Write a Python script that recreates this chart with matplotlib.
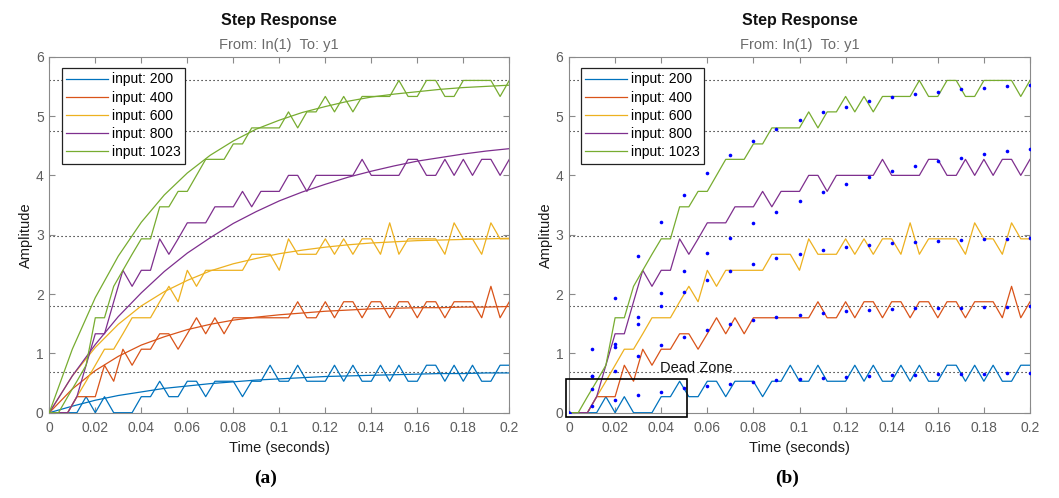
import matplotlib
matplotlib.use('Agg')
import matplotlib.pyplot as plt
from matplotlib.patches import Rectangle

plt.rcParams['font.family'] = ['Liberation Sans', 'DejaVu Sans']

# ---------------- data ----------------
series_labels = ['input: 200', 'input: 400', 'input: 600', 'input: 800', 'input: 1023']
series_colors = ['#0072BD', '#D95319', '#EDB120', '#7E2F8E', '#77AC30']

# measured (quantised) step responses, sampled every 4 ms
t_meas = [0.000, 0.004, 0.008, 0.012, 0.016, 0.020, 0.024, 0.028, 0.032, 0.036,
          0.040, 0.044, 0.048, 0.052, 0.056, 0.060, 0.064, 0.068, 0.072, 0.076,
          0.080, 0.084, 0.088, 0.092, 0.096, 0.100, 0.104, 0.108, 0.112, 0.116,
          0.120, 0.124, 0.128, 0.132, 0.136, 0.140, 0.144, 0.148, 0.152, 0.156,
          0.160, 0.164, 0.168, 0.172, 0.176, 0.180, 0.184, 0.188, 0.192, 0.196,
          0.200]

meas_200 = [0, 0, 0, 0, 0.27, 0, 0.27, 0, 0, 0,
            0.27, 0.27, 0.53, 0.27, 0.27, 0.53, 0.53, 0.27, 0.53, 0.53,
            0.53, 0.27, 0.53, 0.53, 0.80, 0.53, 0.53, 0.80, 0.53, 0.53,
            0.53, 0.80, 0.53, 0.80, 0.53, 0.53, 0.80, 0.53, 0.80, 0.53,
            0.53, 0.80, 0.80, 0.53, 0.80, 0.53, 0.80, 0.53, 0.53, 0.80, 0.80]
meas_400 = [0, 0, 0, 0.27, 0.27, 0.27, 0.80, 0.53, 1.07, 0.80,
            1.07, 1.07, 1.33, 1.33, 1.07, 1.33, 1.60, 1.33, 1.60, 1.33,
            1.60, 1.60, 1.60, 1.60, 1.60, 1.60, 1.60, 1.87, 1.60, 1.60,
            1.87, 1.60, 1.87, 1.87, 1.60, 1.87, 1.87, 1.60, 1.87, 1.87,
            1.60, 1.87, 1.87, 1.60, 1.87, 1.87, 1.87, 1.60, 2.13, 1.60, 1.87]
meas_600 = [0, 0, 0, 0.27, 0.53, 0.80, 1.07, 1.07, 1.33, 1.60,
            1.60, 1.60, 1.87, 2.13, 1.87, 2.40, 2.13, 2.40, 2.40, 2.40,
            2.40, 2.40, 2.67, 2.67, 2.67, 2.40, 2.93, 2.67, 2.67, 2.67,
            2.93, 2.67, 2.93, 2.67, 2.93, 2.93, 2.67, 3.20, 2.67, 2.93,
            2.93, 2.93, 2.93, 2.67, 3.20, 2.93, 2.93, 2.67, 3.20, 2.93, 2.93]
meas_800 = [0, 0, 0, 0.27, 0.80, 1.33, 1.33, 1.87, 2.40, 2.13,
            2.40, 2.40, 2.93, 2.67, 2.93, 3.20, 3.20, 3.20, 3.47, 3.47,
            3.47, 3.73, 3.47, 3.73, 3.73, 3.73, 4.00, 4.00, 3.73, 4.00,
            4.00, 4.00, 4.00, 4.00, 4.27, 4.00, 4.00, 4.00, 4.00, 4.27,
            4.27, 4.00, 4.00, 4.27, 4.00, 4.27, 4.00, 4.27, 4.27, 4.00, 4.27]
meas_1023 = [0, 0, 0.27, 0.53, 0.80, 1.60, 1.60, 2.13, 2.40, 2.67,
             2.93, 2.93, 3.47, 3.47, 3.73, 3.73, 4.00, 4.27, 4.27, 4.27,
             4.53, 4.53, 4.80, 4.80, 4.80, 4.80, 5.07, 4.80, 5.07, 5.07,
             5.33, 5.07, 5.33, 5.07, 5.33, 5.33, 5.33, 5.33, 5.60, 5.33,
             5.33, 5.60, 5.60, 5.33, 5.33, 5.60, 5.60, 5.60, 5.60, 5.33, 5.60]

# identified model responses, read every 10 ms
t_model = [0.00, 0.01, 0.02, 0.03, 0.04, 0.05, 0.06, 0.07, 0.08, 0.09, 0.10,
           0.11, 0.12, 0.13, 0.14, 0.15, 0.16, 0.17, 0.18, 0.19, 0.20]
model_200 = [0, 0.11, 0.21, 0.29, 0.35, 0.41, 0.45, 0.49, 0.52, 0.55, 0.57,
             0.59, 0.61, 0.62, 0.63, 0.64, 0.65, 0.66, 0.66, 0.67, 0.67]
model_400 = [0, 0.40, 0.71, 0.95, 1.14, 1.28, 1.40, 1.49, 1.56, 1.61, 1.65,
             1.68, 1.71, 1.73, 1.75, 1.76, 1.77, 1.77, 1.78, 1.78, 1.79]
model_600 = [0, 0.62, 1.10, 1.49, 1.80, 2.04, 2.23, 2.39, 2.51, 2.60, 2.68,
             2.74, 2.79, 2.83, 2.86, 2.88, 2.90, 2.91, 2.92, 2.93, 2.94]
model_800 = [0, 0.62, 1.15, 1.62, 2.02, 2.38, 2.69, 2.95, 3.19, 3.39, 3.57,
             3.72, 3.85, 3.97, 4.07, 4.16, 4.24, 4.30, 4.36, 4.41, 4.45]
model_1023 = [0, 1.07, 1.94, 2.64, 3.21, 3.67, 4.04, 4.34, 4.58, 4.78, 4.93,
              5.06, 5.16, 5.25, 5.32, 5.37, 5.41, 5.45, 5.48, 5.50, 5.52]

# steady-state values (dotted lines)
steady_values = [0.69, 1.80, 2.97, 4.75, 5.60]

x_ticks = [0, 0.02, 0.04, 0.06, 0.08, 0.1, 0.12, 0.14, 0.16, 0.18, 0.2]
x_tick_labels = ['0', '0.02', '0.04', '0.06', '0.08', '0.1', '0.12', '0.14',
                 '0.16', '0.18', '0.2']
y_ticks = [0, 1, 2, 3, 4, 5, 6]
y_tick_labels = ['0', '1', '2', '3', '4', '5', '6']

dead_zone = (0.0, 0.0, 0.05, 0.56)  # x, y, width, height in data units

meas_all = [meas_200, meas_400, meas_600, meas_800, meas_1023]
model_all = [model_200, model_400, model_600, model_800, model_1023]

# ---------------- figure ----------------
W, H = 1059, 498
fig = plt.figure(figsize=(W / 100, H / 100), dpi=100)

def px_axes(x0, x1, ytop, ybot):
    return [x0 / W, 1 - ybot / H, (x1 - x0) / W, (ybot - ytop) / H]

axA = fig.add_axes(px_axes(49.3, 509.3, 56.7, 412.7))
axB = fig.add_axes(px_axes(569, 1030, 56.7, 412.7))

spine_col = '#8a8a8a'
tick_col = '#5e5e5e'

def style(ax):
    ax.set_xlim(0, 0.2)
    ax.set_ylim(0, 6)
    ax.set_xticks(x_ticks)
    ax.set_xticklabels(x_tick_labels)
    ax.set_yticks(y_ticks)
    ax.set_yticklabels(y_tick_labels)
    ax.tick_params(direction='in', top=True, right=True, length=4, width=0.8,
                   color=spine_col, labelcolor=tick_col, labelsize=10)
    ax.tick_params(axis='x', pad=6)
    ax.tick_params(axis='y', pad=4)
    for s in ax.spines.values():
        s.set_color(spine_col)
        s.set_linewidth(0.8)
    for v in steady_values:
        ax.axhline(v, color='black', lw=0.8, ls=(0, (1, 2.6)), zorder=1)
    ax.set_xlabel('Time (seconds)', fontsize=10.5, color='#1a1a1a', labelpad=4)
    ax.set_ylabel('Amplitude', fontsize=10.5, color='#1a1a1a', labelpad=2)
    ax.annotate('Step Response', xy=(0.5, 1), xycoords='axes fraction',
                xytext=(0, 22.5), textcoords='offset points', ha='center',
                va='baseline', fontsize=11.5, fontweight='bold', color='#111111')
    ax.annotate('From: In(1)  To: y1', xy=(0.5, 1), xycoords='axes fraction',
                xytext=(0, 5.5), textcoords='offset points', ha='center',
                va='baseline', fontsize=10.5, color='#6b6b6b')

# panel (a)
style(axA)
for lab, col, meas, mod in zip(series_labels, series_colors, meas_all, model_all):
    axA.plot(t_meas, meas, color=col, lw=0.9, label=lab, zorder=3)
    axA.plot(t_model, mod, color=col, lw=0.9, zorder=3)

# panel (b)
style(axB)
for lab, col, meas, mod in zip(series_labels, series_colors, meas_all, model_all):
    axB.plot(t_meas, meas, color=col, lw=0.9, label=lab, zorder=3)
    axB.plot(t_model, mod, ls='none', marker='o', ms=2.6, color='#0000FF',
             mec='none', zorder=4)

rect = Rectangle((dead_zone[0] - 0.0015, dead_zone[1] - 0.065), dead_zone[2] + 0.0027,
                 dead_zone[3] + 0.07, fill=False, ec='black', lw=1.2,
                 clip_on=False, zorder=5)
axB.add_patch(rect)
axB.text(0.0395, 0.68, 'Dead Zone', fontsize=10.5, color='#111111',
         ha='left', va='baseline', zorder=6)

for ax in (axA, axB):
    leg = ax.legend(loc='upper left',
                    bbox_to_anchor=((62 - 49.3) / 460 if ax is axA else (581 - 569) / 461,
                                    (412.7 - 68) / 356),
                    borderaxespad=0, fontsize=10, frameon=True, fancybox=False,
                    framealpha=1, edgecolor='#222222', handlelength=3.0,
                    handletextpad=0.3, labelspacing=0.3, borderpad=0.32)
    leg.get_frame().set_linewidth(0.9)
    leg.set_zorder(10)

# captions
fig.text(266 / W, 1 - 478 / H, '(a)', ha='center', va='center', fontsize=14,
         fontweight='bold', family=['Liberation Serif', 'DejaVu Serif'])
fig.text(787 / W, 1 - 478 / H, '(b)', ha='center', va='center', fontsize=14,
         fontweight='bold', family=['Liberation Serif', 'DejaVu Serif'])

fig.savefig('out.png', dpi=100, facecolor='white')
